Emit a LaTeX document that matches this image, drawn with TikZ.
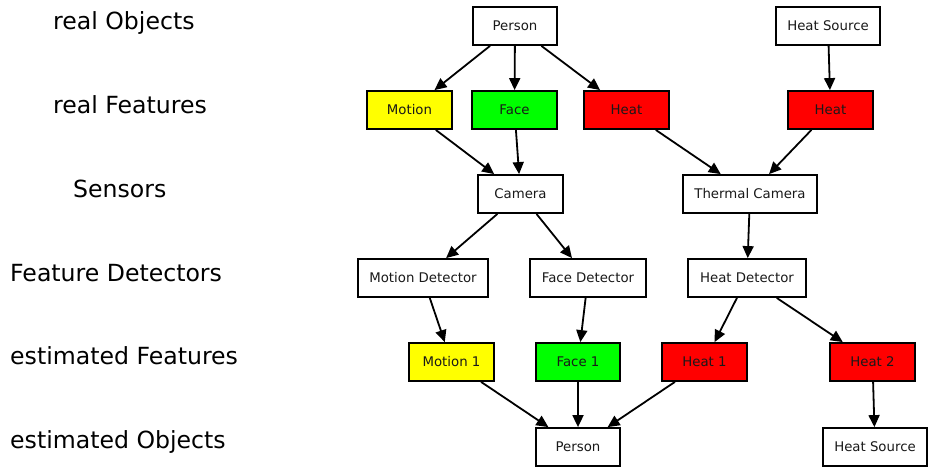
\documentclass[tikz,border=0pt]{standalone}
\usepackage{fontspec}
\setmainfont{DejaVu Sans}
\usetikzlibrary{arrows.meta}
\begin{document}
\begin{tikzpicture}[x=1pt,y=-1pt,
  box/.style={draw=black, line width=1.8pt, rectangle, inner sep=0pt,
    minimum height=38pt, font=\fontsize{13.3}{15}\selectfont, text=black!90},
  yel/.style={box, fill={rgb,255:red,255;green,255;blue,0}},
  grn/.style={box, fill={rgb,255:red,0;green,255;blue,0}},
  rd/.style={box, fill={rgb,255:red,255;green,0;blue,0}},
  wht/.style={box, fill=white},
  level/.style={anchor=base west, inner sep=0pt, font=\fontsize{23.6}{27}\selectfont},
  link/.style={line width=1.8pt, -{Triangle[length=12pt,width=11pt]}}]
\useasboundingbox (0,0) rectangle (933,471);

% row labels
\node[level] (l1) at (53,29)  {real Objects};
\node[level] (l2) at (53,113) {real Features};
\node[level] (l3) at (73,197) {Sensors};
\node[level] (l4) at (10,281) {Feature Detectors};
\node[level] (l5) at (10,364) {estimated Features};
\node[level] (l6) at (10,448) {estimated Objects};

% real objects
\node[wht, minimum width=84pt]  (person) at (515,26)   {Person};
\node[wht, minimum width=104pt] (hsrc)   at (828,26)   {Heat Source};
% real features
\node[yel, minimum width=85pt]  (motion) at (409.5,110) {Motion};
\node[grn, minimum width=85pt]  (face)   at (514.5,110) {Face};
\node[rd,  minimum width=85pt]  (heatA)  at (626.5,110) {Heat};
\node[rd,  minimum width=85pt]  (heatB)  at (830.5,110) {Heat};
% sensors
\node[wht, minimum width=85pt]  (cam)    at (520.5,194) {Camera};
\node[wht, minimum width=134pt] (tcam)   at (750,194)   {Thermal Camera};
% detectors
\node[wht, minimum width=130pt] (mdet)   at (423,278)   {Motion Detector};
\node[wht, minimum width=116pt] (fdet)   at (588,278)   {Face Detector};
\node[wht, minimum width=118pt] (hdet)   at (747,278)   {Heat Detector};
% estimated features
\node[yel, minimum width=85pt]  (m1)     at (451.5,362) {Motion 1};
\node[grn, minimum width=84pt]  (f1)     at (578,362)   {Face 1};
\node[rd,  minimum width=85pt]  (h1)     at (704.5,362) {Heat 1};
\node[rd,  minimum width=85pt]  (h2)     at (872.5,362) {Heat 2};
% estimated objects
\node[wht, minimum width=84pt]  (eperson) at (578,447)  {Person};
\node[wht, minimum width=104pt] (ehsrc)   at (875,447)  {Heat Source};

% connections
\draw[link] (person) -- (motion);
\draw[link] (person) -- (face);
\draw[link] (person) -- (heatA);
\draw[link] (hsrc) -- (heatB);
\draw[link] (motion) -- (cam);
\draw[link] (face) -- (cam);
\draw[link] (heatA) -- (tcam);
\draw[link] (heatB) -- (tcam);
\draw[link] (cam) -- (mdet);
\draw[link] (cam) -- (fdet);
\draw[link] (tcam) -- (hdet);
\draw[link] (mdet) -- (m1);
\draw[link] (fdet) -- (f1);
\draw[link] (hdet) -- (h1);
\draw[link] (hdet) -- (h2);
\draw[link] (m1) -- (eperson);
\draw[link] (f1) -- (eperson);
\draw[link] (h1) -- (eperson);
\draw[link] (h2) -- (ehsrc);
\end{tikzpicture}
\end{document}
